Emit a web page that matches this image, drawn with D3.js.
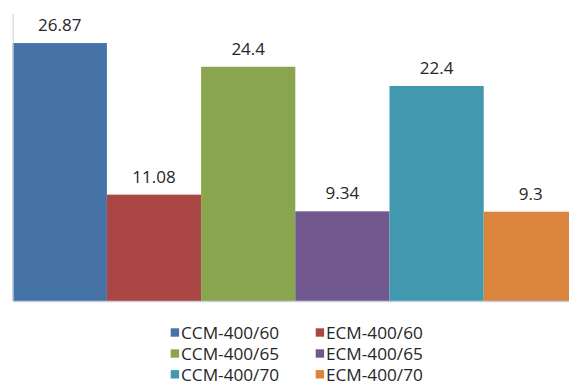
<!DOCTYPE html>
<html>
<head>
<meta charset="utf-8">
<script src="https://cdn.jsdelivr.net/npm/d3@7"></script>
<style>
  html, body { margin: 0; padding: 0; background: #ffffff; }
  svg { display: block; }
</style>
</head>
<body>
<div id="chart"></div>
<script>
const categories = ["CCM-400/60", "ECM-400/60", "CCM-400/65", "ECM-400/65", "CCM-400/70", "ECM-400/70"];
const values = [26.87, 11.08, 24.4, 9.34, 22.4, 9.3];
const labels = ["26.87", "11.08", "24.4", "9.34", "22.4", "9.3"];
const colors = ["#4572A7", "#AA4643", "#89A54E", "#71588F", "#4198AF", "#DB843D"];

const W = 569, H = 385;
const svg = d3.select("#chart").append("svg")
  .attr("width", W).attr("height", H)
  .style("font-family", "'Open Sans', sans-serif");

const x = d3.scaleBand().domain(categories).range([12.7, 12.7 + 6 * 94.2]).padding(0);
const y = d3.scaleLinear().domain([0, 30]).range([301, 13]);

// bars
svg.append("g").selectAll("rect")
  .data(categories)
  .join("rect")
  .attr("x", d => x(d))
  .attr("y", (d, i) => y(values[i]))
  .attr("width", x.bandwidth())
  .attr("height", (d, i) => y(0) - y(values[i]))
  .attr("fill", (d, i) => colors[i]);

// axes (lines only)
const xAxis = svg.append("g")
  .attr("transform", `translate(0,${y(0)})`)
  .call(d3.axisBottom(x).tickSize(0).tickSizeOuter(0).tickFormat(""));
xAxis.select(".domain").attr("stroke", "#c8d0dc").attr("stroke-width", 1.5);

const yAxis = svg.append("g")
  .attr("transform", `translate(${x.range()[0]},0)`)
  .call(d3.axisLeft(y).ticks(0).tickSize(0).tickSizeOuter(0).tickFormat(""));
yAxis.select(".domain").attr("stroke", "#c8d0dc").attr("stroke-width", 1);

// data labels
svg.append("g").selectAll("text")
  .data(categories)
  .join("text")
  .attr("x", d => x(d) + x.bandwidth() / 2)
  .attr("y", (d, i) => y(values[i]) - 12)
  .attr("text-anchor", "middle")
  .attr("font-size", 17)
  .attr("fill", "#262626")
  .text((d, i) => labels[i]);

// legend
const legend = svg.append("g");
const colX = [170.7, 315.7];
const rowY = [332.5, 353.5, 374.3];
categories.forEach((c, i) => {
  const col = i % 2, row = Math.floor(i / 2);
  const g = legend.append("g").attr("transform", `translate(${colX[col]},${rowY[row]})`);
  g.append("rect").attr("x", 0).attr("y", -4.2).attr("width", 8.4).attr("height", 8.4).attr("fill", colors[i]);
  g.append("text").attr("x", 10.3).attr("y", 0).attr("dy", "0.36em")
    .attr("font-size", 17.2).attr("fill", "#262626").text(c);
});
</script>
</body>
</html>
